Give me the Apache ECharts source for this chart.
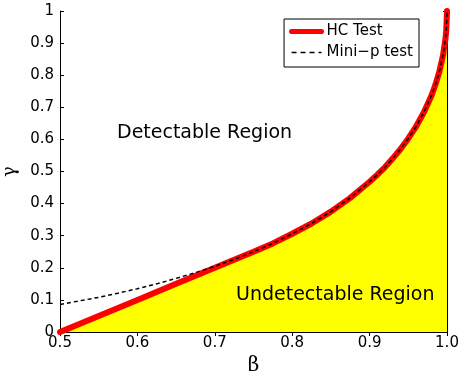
<!DOCTYPE html>
<html>
<head>
<meta charset="utf-8">
<script src="https://cdn.jsdelivr.net/npm/echarts@6/dist/echarts.min.js"></script>
<style>
html, body { margin: 0; padding: 0; background: #fff; }
#main { width: 459px; height: 371px; }
</style>
</head>
<body>
<div id="main"></div>
<script>
// values
var betaHC = [0.5, 0.55, 0.6, 0.65, 0.7, 0.75, 0.775, 0.8, 0.825, 0.85, 0.875, 0.9, 0.91, 0.92, 0.93, 0.94, 0.95, 0.96, 0.97, 0.98, 0.985, 0.99, 0.995, 0.998, 0.999, 1.0];
var gammaHC = [0, 0.05, 0.1, 0.15, 0.2, 0.25, 0.276, 0.306, 0.338, 0.375, 0.418, 0.468, 0.49, 0.514, 0.541, 0.570, 0.603, 0.640, 0.684, 0.737, 0.770, 0.810, 0.864, 0.913, 0.938, 1.0];
var betaMP = [0.5, 0.525, 0.55, 0.575, 0.6, 0.625, 0.65, 0.675, 0.7, 0.725, 0.75, 0.775, 0.8, 0.825, 0.85, 0.875, 0.9, 0.91, 0.92, 0.93, 0.94, 0.95, 0.96, 0.97, 0.98, 0.985, 0.99, 0.995, 0.998, 0.999, 1.0];
var gammaMP = [0.086, 0.097, 0.108, 0.121, 0.135, 0.150, 0.167, 0.185, 0.205, 0.226, 0.25, 0.276, 0.306, 0.338, 0.375, 0.418, 0.468, 0.49, 0.514, 0.541, 0.570, 0.603, 0.640, 0.684, 0.737, 0.770, 0.810, 0.864, 0.913, 0.938, 1.0];

function pairs(xs, ys) {
    var out = [];
    for (var i = 0; i < xs.length; i++) out.push([xs[i], ys[i]]);
    return out;
}

var chart = echarts.init(document.getElementById('main'));
var sans = 'DejaVu Sans';
var option = {
    animation: false,
    grid: { left: 60, right: 12, top: 11, bottom: 39, outerBoundsMode: 'none', containLabel: false },
    legend: {
        orient: 'vertical',
        right: 40,
        top: 19,
        backgroundColor: '#fff',
        borderColor: '#000',
        borderWidth: 1,
        borderRadius: 0,
        padding: [5, 6, 7, 5],
        itemGap: 6,
        itemWidth: 30,
        itemHeight: 14,
        itemStyle: { opacity: 0 },
        textStyle: { fontFamily: sans, fontSize: 15, color: '#000' },
        data: [
            { name: 'HC Test', lineStyle: { width: 5, color: '#ff0000' } },
            { name: 'Mini\u2212p test', lineStyle: { width: 1.5, color: '#000', type: [5, 4] } }
        ]
    },
    xAxis: [{
        type: 'value', min: 0.5, max: 1, interval: 0.1,
        name: 'β', nameLocation: 'middle', nameGap: 14,
        nameTextStyle: { fontFamily: 'DejaVu Serif', fontSize: 20, color: '#000', verticalAlign: 'top' },
        axisLine: { lineStyle: { color: '#000', width: 1 } },
        axisTick: { inside: true, length: 4, lineStyle: { color: '#000' } },
        axisLabel: { fontFamily: sans, fontSize: 15, color: '#000', margin: 4,
            formatter: function (v) { return v.toFixed(1); } },
        splitLine: { show: false }
    }, {
        type: 'value', position: 'top', min: 0.5, max: 1, interval: 0.1,
        axisLine: { lineStyle: { color: '#000', width: 1 } },
        axisTick: { inside: true, length: 4, lineStyle: { color: '#000' } },
        axisLabel: { show: false }, splitLine: { show: false }
    }],
    yAxis: [{
        type: 'value', min: 0, max: 1, interval: 0.1,
        name: 'γ', nameLocation: 'middle', nameGap: 39, nameRotate: 90,
        nameTextStyle: { fontFamily: 'DejaVu Serif', fontSize: 18, color: '#000' },
        axisLine: { lineStyle: { color: '#000', width: 1 } },
        axisTick: { inside: true, length: 4, lineStyle: { color: '#000' } },
        axisLabel: { fontFamily: sans, fontSize: 15, color: '#000', margin: 6,
            formatter: function (v) { return (v === 0 || v === 1) ? String(v) : v.toFixed(1); } },
        splitLine: { show: false }
    }, {
        type: 'value', position: 'right', min: 0, max: 1, interval: 0.1,
        axisLine: { lineStyle: { color: '#000', width: 1 } },
        axisTick: { inside: true, length: 4, lineStyle: { color: '#000' } },
        axisLabel: { show: false }, splitLine: { show: false }
    }],
    graphic: [
        { type: 'text', left: 117, top: 124, z: 100,
          style: { text: 'Detectable Region', font: '19px "DejaVu Sans"', fill: '#000' } },
        { type: 'text', left: 236, top: 286, z: 100,
          style: { text: 'Undetectable Region', font: '19px "DejaVu Sans"', fill: '#000' } }
    ],
    series: [{
        name: 'HC Test',
        type: 'line',
        data: pairs(betaHC, gammaHC),
        showSymbol: false,
        symbol: 'none',
        lineStyle: { color: '#ff0000', width: 6, cap: 'round' },
        itemStyle: { color: '#ff0000' },
        areaStyle: { color: '#ffff00', opacity: 1 },
        z: 2
    }, {
        name: 'Mini\u2212p test',
        type: 'line',
        data: pairs(betaMP, gammaMP),
        showSymbol: false,
        symbol: 'none',
        lineStyle: { color: '#000', width: 1.5, type: [4, 3] },
        itemStyle: { color: '#000' },
        z: 3
    }]
};
chart.setOption(option);
</script>
</body>
</html>
